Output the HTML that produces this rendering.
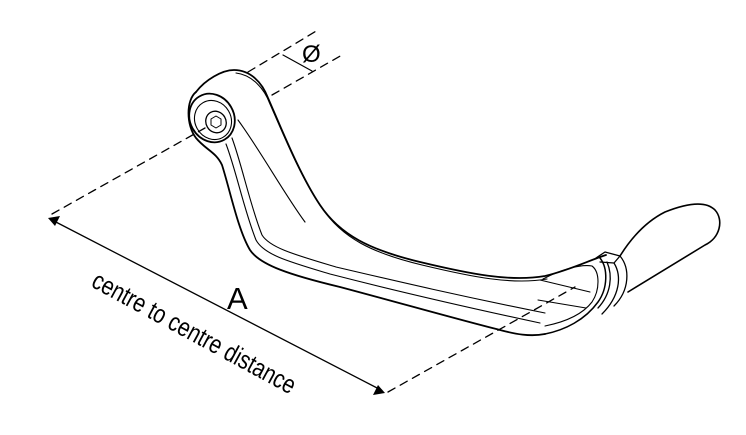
<!DOCTYPE html>
<html><head><meta charset="utf-8"><style>
html,body{margin:0;padding:0;background:#fff;width:746px;height:435px;overflow:hidden}
svg{display:block}
</style></head><body>
<svg width="746" height="435" viewBox="0 0 746 435" xmlns="http://www.w3.org/2000/svg">
<g fill="none" stroke="#000" stroke-linecap="round" stroke-linejoin="round">
<g stroke-width="1.3" stroke-dasharray="8,6">
<path d="M52,214 L205,128"/>
<path d="M248,72 L318,30"/>
<path d="M272,95 L342,55"/>
<path d="M388,392 L575,287"/>
</g>
<path d="M52,220 L381,390" stroke-width="1.3"/>
<path d="M283,55 L312,71" stroke-width="1.2"/>
<!-- lever outline -->
<path stroke-width="1.8" d="M196,92 C205,80 222,70 234,70 C250,70 262,82 268,98 C282,130 300,175 320,205 C340,235 370,250 420,262 C470,274 510,282 545,276 C570,270 590,260 606,255"/>
<path stroke-width="1.1" d="M236,73 C252,75 264,88 270,104 C284,136 302,180 322,208 C342,238 372,253 422,265 C472,277 512,285 547,279"/>
<path stroke-width="1.8" d="M196,92 C186,100 186,125 196,138 C206,150 216,152 222,165 C230,190 238,230 250,250 C260,265 290,275 340,287 C400,303 460,320 500,330 C515,334 530,337 545,334"/>
<path stroke-width="1.1" d="M226,144 C236,170 244,210 256,240 C264,255 290,262 330,274 C400,292 470,308 540,323"/>
<path stroke-width="1.1" d="M232,138 C242,165 250,205 262,235 C270,248 296,255 336,267 C400,282 460,296 545,313"/>
<path stroke-width="1.1" d="M238,120 C260,150 285,195 305,222"/>
<!-- end cup -->
<path stroke-width="1.5" d="M545,334 C565,330 585,320 598,302 C608,288 608,268 600,258"/>
<path stroke-width="1.1" d="M543,279 C560,270 580,264 592,266 C600,272 600,290 592,302 C582,315 565,322 545,326"/>
<path stroke-width="1.1" d="M540,280 L590,292 M538,300 L586,308"/>
<path stroke-width="1.3" d="M596,258 L605,252 L620,256 L614,263 L600,262"/>
<path stroke-width="1.3" d="M614,263 C622,276 620,296 602,314 M620,256 C630,268 630,290 614,306 M607,262 C613,276 611,294 598,308"/>
<!-- grip -->
<path stroke-width="1.6" d="M620,256 C630,240 645,222 665,212 C685,204 705,200 715,210 C724,220 720,238 705,245 L628,292"/>
<!-- pivot eye -->
<ellipse cx="212" cy="118" rx="22" ry="25" transform="rotate(-30 212 118)" stroke-width="1.8"/>
<ellipse cx="213" cy="120" rx="18" ry="20" transform="rotate(-30 213 120)" stroke-width="1.1"/>
<ellipse cx="216" cy="122" rx="10" ry="11" transform="rotate(-30 216 122)" stroke-width="1.3"/>
<polygon points="216,116 221,119 221,125 216,128 211,125 211,119" stroke-width="1"/>
</g>
<polygon points="48,218 60,216 55,226" fill="#000"/>
<polygon points="385,393 373,395 378,385" fill="#000"/>
<text x="302" y="62" font-family="Liberation Sans, sans-serif" font-size="24">Ø</text>
<text x="227" y="309" font-family="Liberation Sans, sans-serif" font-size="31">A</text>
<text transform="translate(90,286) rotate(28.5) scale(0.8,1)" font-family="Liberation Sans, sans-serif" font-size="26">centre to centre distance</text>
</svg>
</body></html>
